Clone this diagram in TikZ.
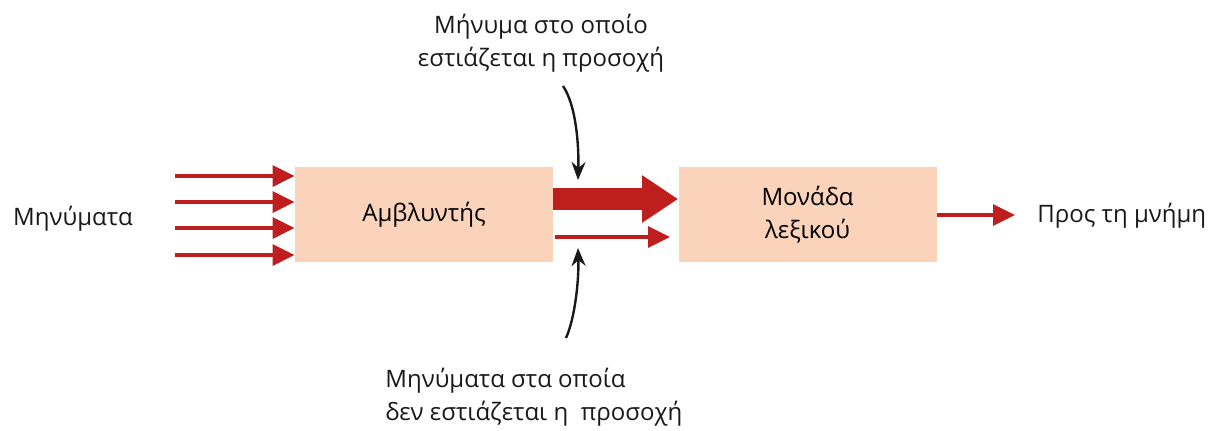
\documentclass[tikz,border=0pt]{standalone}
\usepackage{fontspec}
\setmainfont{Open Sans}
\usetikzlibrary{arrows.meta}
\definecolor{peach}{HTML}{FAD3BA}
\definecolor{dred}{HTML}{BE1E1E}
\begin{document}
\begin{tikzpicture}[x=0.5pt,y=-0.5pt,
  box/.style={fill=peach,draw=none,minimum width=129pt,minimum height=47.5pt,inner sep=0pt,font=\fontsize{12}{16.5}\selectfont,align=center},
  lbl/.style={font=\fontsize{12}{16.5}\selectfont,inner sep=0pt,text=black!90},
  thin/.style={draw=dred,line width=1.6pt,-{Triangle[length=11pt,width=10.5pt]}},
  thick/.style={draw=dred,line width=11pt,-{Triangle[length=18pt,width=22.5pt]}},
  curve/.style={draw=black!90,line width=1.2pt,-{Stealth[length=9pt,width=7pt]}}]
\useasboundingbox (0,0) rectangle (1215,430);
\node[box] (amb) at (424,214.5) {Αμβλυντής};
\node[box] (lex) at (807.5,214.5) {Μονάδα\\λεξικού};
\node[lbl] (msg) at (73,219) {Μηνύματα};
\node[lbl,anchor=west] (mem) at (1037,216) {Προς τη μνήμη};
\node[lbl,align=center] (top) at (541,43) {Μήνυμα στο οποίο\\εστιάζεται η προσοχή};
\node[lbl,align=left,anchor=west] (bot) at (385,397) {Μηνύματα στα οποία\\δεν εστιάζεται η \ προσοχή};
% input arrows
\foreach \y/\n in {176/a,202/b,228/c,255/d}{
  \coordinate (s\n) at (175,\y);
  \draw[thin] (s\n) -- (amb.west |- s\n);
}
% thick and thin middle arrows
\coordinate (t1) at (553,199);
\coordinate (t2) at (555,237);
\coordinate (t2e) at (670,237);
\draw[thick] (t1) -- (lex.west |- t1);
\draw[thin] (t2) -- (t2e);
% output
\draw[thin] (lex.east |- 0,215) -- (1015,215);
% curved pointers
\coordinate (c1s) at (563,86);
\coordinate (c1e) at (578,180);
\coordinate (c2s) at (566,338);
\coordinate (c2e) at (578,248);
\draw[curve] (c1s) .. controls (576,105) and (579,145) .. (c1e);
\draw[curve] (c2s) .. controls (575,318) and (579,280) .. (c2e);
\end{tikzpicture}
\end{document}
